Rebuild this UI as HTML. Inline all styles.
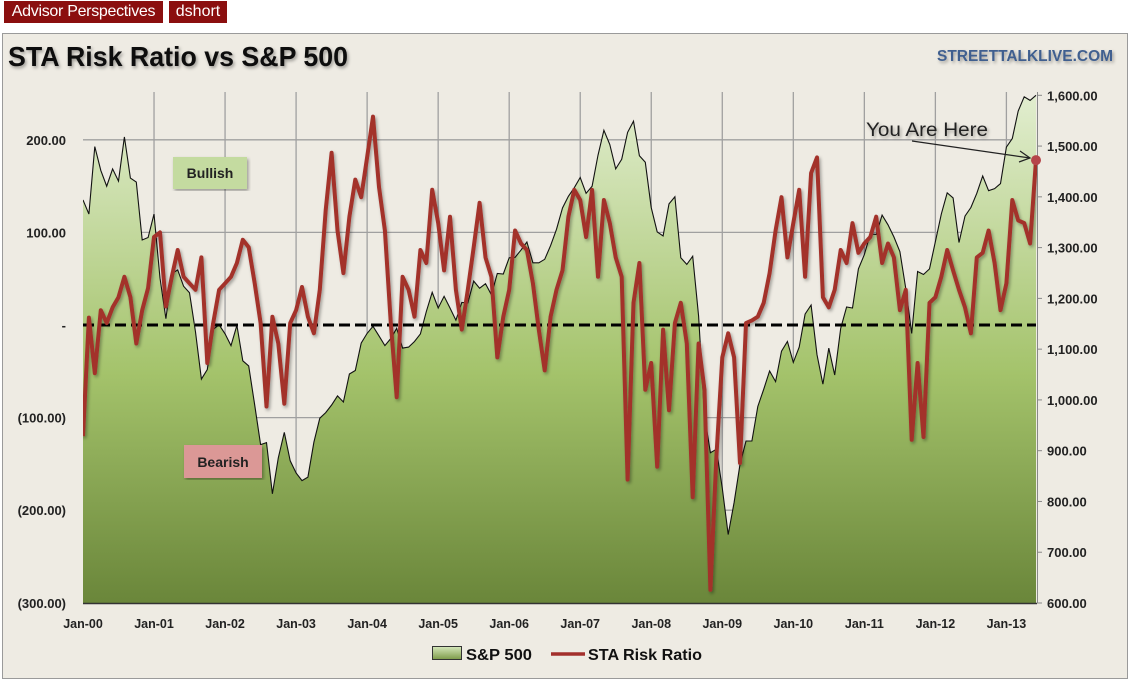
<!DOCTYPE html>
<html><head><meta charset="utf-8"><style>
html,body{margin:0;padding:0;background:#fff;width:1132px;height:682px;overflow:hidden}
.badge{position:absolute;top:1px;height:22px;background:#8b0f0f;color:#fff;font:16px "Liberation Sans",sans-serif;line-height:22px;padding:0 4px;box-sizing:border-box;white-space:nowrap;overflow:hidden;text-align:center}
svg{position:absolute;left:0;top:0}
text{font-family:"Liberation Sans",sans-serif}
</style></head><body>
<div class="badge" style="left:4px;width:159px;letter-spacing:-0.3px">Advisor Perspectives</div>
<div class="badge" style="left:169px;width:58px">dshort</div>
<svg id="chart" width="1132" height="682">
<defs>
<linearGradient id="g" x1="0" y1="92" x2="0" y2="603" gradientUnits="userSpaceOnUse">
<stop offset="0" stop-color="#e2eed0"/><stop offset="0.55" stop-color="#a4c36b"/><stop offset="1" stop-color="#6a863a"/>
</linearGradient>
<linearGradient id="g2" x1="0" y1="0" x2="0" y2="1">
<stop offset="0" stop-color="#d6e8bc"/><stop offset="1" stop-color="#7c9a48"/>
</linearGradient>
<clipPath id="clip"><rect x="83" y="90" width="954" height="514"/></clipPath>
<filter id="sh" x="-5%" y="-5%" width="110%" height="110%"><feDropShadow dx="1.5" dy="2" stdDeviation="1.5" flood-opacity="0.35"/></filter>
</defs>
<rect x="2.5" y="33.5" width="1125" height="645" fill="#eeebe3" stroke="#9a9a9a"/>
<text x="8" y="66" font-size="28" font-weight="bold" fill="#111" textLength="340" lengthAdjust="spacingAndGlyphs" filter="url(#sh)">STA Risk Ratio vs S&amp;P 500</text>
<text x="937" y="61" font-size="16" font-weight="bold" fill="#3f5f8f" textLength="176" lengthAdjust="spacingAndGlyphs" filter="url(#sh)">STREETTALKLIVE.COM</text>
<g id="grid"></g>
<g id="area" clip-path="url(#clip)"></g>
<line x1="83" y1="325" x2="1036" y2="325" stroke="#000" stroke-width="3" stroke-dasharray="11,5"/>
<g id="red" clip-path="url(#clip)"></g>
<g id="axes"></g>
<g filter="url(#sh)"><rect x="173" y="157" width="74" height="32" fill="#c4dba0"/><text x="210" y="178" font-size="14" font-weight="bold" text-anchor="middle" fill="#222">Bullish</text></g>
<g filter="url(#sh)"><rect x="184" y="445" width="78" height="33" fill="#db9896"/><text x="223" y="467" font-size="14" font-weight="bold" text-anchor="middle" fill="#222">Bearish</text></g>
<text x="866" y="136" font-size="19" fill="#222" textLength="122" lengthAdjust="spacingAndGlyphs" filter="url(#sh)">You Are Here</text>
<g stroke="#222" stroke-width="1.2" fill="none"><line x1="912" y1="141" x2="1030" y2="158"/><polyline points="1020,151 1030,158 1019,162"/></g>
<g>
<rect x="432.5" y="646.5" width="29" height="13" fill="url(#g2)" stroke="#333"/>
<text x="466" y="660" font-size="16" font-weight="bold" fill="#111" textLength="66" lengthAdjust="spacingAndGlyphs">S&amp;P 500</text>
<line x1="551" y1="654" x2="585" y2="654" stroke="#a3302c" stroke-width="3.5"/>
<text x="588" y="660" font-size="16" font-weight="bold" fill="#111" textLength="114" lengthAdjust="spacingAndGlyphs">STA Risk Ratio</text>
</g>
</svg>
<script>
const xLabels=["Jan-00","Jan-01","Jan-02","Jan-03","Jan-04","Jan-05","Jan-06","Jan-07","Jan-08","Jan-09","Jan-10","Jan-11","Jan-12","Jan-13"];
const leftTicks=[200,100,0,-100,-200,-300];
const leftTickLabels=["200.00","100.00","-","(100.00)","(200.00)","(300.00)"];
const rightTicks=[1600,1500,1400,1300,1200,1100,1000,900,800,700,600];
const sp500=[1394,1366,1499,1452,1421,1455,1431,1518,1437,1429,1315,1320,
1366,1240,1160,1249,1256,1224,1211,1134,1041,1060,1139,1148,
1130,1107,1147,1077,1067,990,912,916,815,886,936,880,
856,841,848,917,964,975,990,1008,996,1051,1058,1112,
1131,1145,1126,1107,1121,1141,1102,1104,1115,1130,1174,1212,
1181,1204,1181,1157,1192,1191,1234,1220,1229,1207,1249,1248,
1280,1281,1295,1311,1270,1270,1277,1304,1336,1378,1401,1418,
1438,1407,1421,1482,1531,1503,1455,1474,1527,1549,1481,1468,
1379,1331,1323,1386,1400,1280,1267,1283,1165,969,896,903,
826,735,798,873,919,919,987,1021,1057,1036,1096,1115,
1074,1104,1169,1187,1089,1031,1102,1049,1141,1183,1181,1258,
1286,1327,1326,1364,1345,1321,1292,1219,1131,1253,1247,1258,
1312,1366,1408,1398,1310,1362,1379,1407,1441,1412,1416,1426,
1498,1515,1569,1597,1590,1600];
const riskRatio=[-120,8,-52,16,2,19,30,52,30,-20,16,40,
95,100,20,52,81,52,45,38,73,-41,2,38,
45,52,67,92,84,45,2,-88,9,-20,-85,2,
16,41,9,-9,38,124,186,102,56,117,157,138,
181,225,149,102,2,-78,52,38,9,81,67,146,
110,59,117,38,-5,38,84,132,73,52,-35,9,
38,102,88,81,45,-5,-49,9,38,59,117,146,
135,95,146,52,135,110,73,52,-167,24,67,-70,
-41,-153,-5,-92,2,24,-20,-186,-20,-70,-286,-142,
-35,-9,-35,-149,2,5,9,24,56,102,138,73,
110,146,52,164,181,30,19,38,81,67,110,78,
88,95,117,67,88,73,16,38,-124,-41,-121,24,
30,52,81,59,38,19,-9,73,78,102,67,16,
45,135,113,110,88,178];
const NS="http://www.w3.org/2000/svg";
const X0=83,X1=1036,NPTS=161;
function xI(i){return X0+i*(X1-X0)/NPTS;}
function yL(v){return 325-v*0.926;}
function yR(v){return 603-(v-600)*0.5077;}
function mk(tag,attrs,parent){const e=document.createElementNS(NS,tag);for(const k in attrs)e.setAttribute(k,attrs[k]);parent.appendChild(e);return e;}
const grid=document.getElementById('grid'),axes=document.getElementById('axes');
leftTicks.forEach((v,k)=>{
 if(v!==0&&v!==-300){const l=mk('line',{x1:X0,x2:X1,y1:yL(v),y2:yL(v),stroke:'#a0a0a0','stroke-width':1.3},grid);
 
 }
 const t=mk('text',{x:66,y:yL(v)+5,'font-size':13,'font-weight':'bold','text-anchor':'end',fill:'#222'},axes);
 t.textContent=leftTickLabels[k];
 
 
});
xLabels.forEach((s,k)=>{
 const x=xI(k*12);
 if(k>0){const l=mk('line',{x1:x,x2:x,y1:92,y2:603,stroke:'#a0a0a0','stroke-width':1.3},grid);
 
 }
 const t=mk('text',{x:x,y:628,'font-size':12.5,'font-weight':'bold','text-anchor':'middle',fill:'#222'},axes);
 t.textContent=s;
 
 
});
rightTicks.forEach(v=>{
 const t=mk('text',{x:1047,y:yR(v)+5,'font-size':13,'font-weight':'bold',fill:'#222'},axes);
 t.textContent=v.toLocaleString('en-US')+'.00';
 
 
 mk('line',{x1:1037,x2:1042,y1:yR(v),y2:yR(v),stroke:'#888'},axes);
});
mk('line',{x1:1037.5,x2:1037.5,y1:92,y2:603,stroke:'#888'},axes);
mk('line',{x1:X0,x2:1037,y1:603.5,y2:603.5,stroke:'#333','stroke-width':1.5},axes);
let pts=[];
sp500.forEach((v,i)=>{pts.push(xI(i).toFixed(1)+','+yR(v).toFixed(1));});
const area=document.getElementById('area');
const a=mk('path',{d:'M'+X0+',603 L'+pts.join(' L')+' L'+xI(sp500.length-1).toFixed(1)+',603 Z',fill:'url(#g)'},area);


const sl=mk('path',{d:'M'+pts.join(' L'),fill:'none',stroke:'#111','stroke-width':1.1},area);


const red=document.getElementById('red');
const rp=riskRatio.map((v,i)=>xI(i).toFixed(1)+','+yL(v).toFixed(1));
const rl=mk('path',{d:'M'+rp.join(' L'),fill:'none',stroke:'#a3302c','stroke-width':4,'stroke-linejoin':'round',filter:'url(#sh)'},red);


const li=riskRatio.length-1;
const dot=mk('circle',{cx:xI(li),cy:yL(riskRatio[li]),r:5,fill:'#b5454a'},document.getElementById('chart'));


</script>
</body></html>
